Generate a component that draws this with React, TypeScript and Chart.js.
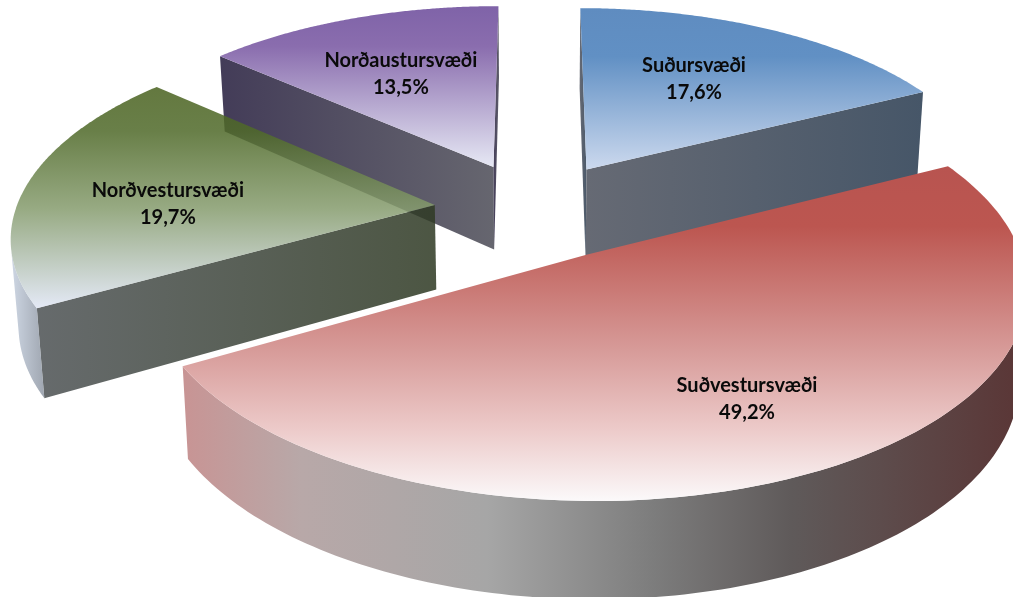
import React, { useEffect, useRef } from "react";
import { Chart, registerables } from "chart.js";

Chart.register(...registerables);

// ---- data ----
const categories = ["Suðursvæði", "Suðvestursvæði", "Norðvestursvæði", "Norðaustursvæði"];
const shares = [17.6, 49.2, 19.7, 13.5];
const shareLabels = ["17,6%", "49,2%", "19,7%", "13,5%"];

// ---- styles: [position, colour] stops per slice, in data order ----
type Stops = [number, string][];
const topStops: Stops[] = [
  [[0, "#5f8cc0"], [0.3, "#6190c4"], [1, "#ccd9ee"]],
  [[0, "#b85450"], [0.18, "#bc5650"], [0.55, "#d79b99"], [0.78, "#ecc9c8"], [1, "#fbf9fa"]],
  [[0, "#4a6220"], [0.2, "#506a2a"], [0.55, "#869c6e"], [1, "#dfe5f4"]],
  [[0, "#7f63a8"], [0.25, "#8a6dae"], [1, "#e6e8f4"]],
];
const radialStops: Stops[] = [
  [[0, "#666a74"], [1, "#465668"]],
  [[0, "#808080"], [1, "#808080"]],
  [[0, "#4d5254"], [1, "#2f3a24"]],
  [[0, "#433c58"], [1, "#66666f"]],
];
const outerStops: Stops[] = [
  [[0, "#4a5a6c"], [1, "#4a5a6c"]],
  [[0, "#c89494"], [0.14, "#b8a8a8"], [0.36, "#a6a6a6"], [0.56, "#7c7c7c"], [0.72, "#5f5a5a"], [1, "#5a3535"]],
  [[0, "#c6d0df"], [1, "#8e96a2"]],
  [[0, "#433c58"], [1, "#433c58"]],
];
const sliceAlpha = [1, 1, 0.86, 1];

// ---- 3D projection of the pie, in units of the pie's own radius ----
const EXPLODE = 0.23;
const nudgeU = [0.005, 0.01, -0.01, -0.007];
const nudgeV = [-0.025, 0.006, -0.012, -0.025];
const radiusScale = [0.985, 1, 0.995, 0.985];
const depthScale = [1.12, 1, 1, 1];
const labelRadius = [0.62, 0.69, 0.64, 0.61];
const labelAngleShift = [-3.7, 0, 0, 0];
const labelNudgeV = [0.025, 0.015, 0.06, 0.02];
const SCALE_X = 1.99;
const SCALE_Y = 0.934;
const PERSPECTIVE = 0.142;
const DEPTH = 85;
const DEPTH_GROW = 11;
const DEPTH_SHRINK_X = 0.985;
const LINE_GAP = 13.5;
const STEPS = 160;

type P = { x: number; y: number };

const pie3d = {
  id: "pie3d",
  beforeDatasetsDraw(chart: any) {
    const ctx: CanvasRenderingContext2D = chart.ctx;
    const meta = chart.getDatasetMeta(0);
    const arcs = meta.data.map((el: any, i: number) => {
      const { x, y, startAngle, endAngle, outerRadius } = el.getProps(
        ["x", "y", "startAngle", "endAngle", "outerRadius"],
        true
      );
      const mid = (startAngle + endAngle) / 2;
      const ou = EXPLODE * Math.cos(mid) + nudgeU[i];
      const ov = EXPLODE * Math.sin(mid) + nudgeV[i];
      const top = (u: number, v: number): P => {
        const w = 1 - PERSPECTIVE * v;
        return { x: x + (SCALE_X * outerRadius * u) / w, y: y + (SCALE_Y * outerRadius * v) / w };
      };
      const bot = (u: number, v: number): P => {
        const p = top(u, v);
        return {
          x: x + (p.x - x) * DEPTH_SHRINK_X,
          y: p.y + (DEPTH + DEPTH_GROW * v) * depthScale[i],
        };
      };
      return { i, x, y, startAngle, endAngle, mid, ou, ov, top, bot };
    });
    arcs.sort((a: any, b: any) => a.ov - b.ov);

    const gradient = (x0: number, y0: number, x1: number, y1: number, stops: Stops) => {
      const g = ctx.createLinearGradient(x0, y0, x1, y1);
      stops.forEach(([s, c]) => g.addColorStop(s, c));
      return g;
    };
    const poly = (pts: P[]) => {
      ctx.beginPath();
      pts.forEach((p, k) => (k ? ctx.lineTo(p.x, p.y) : ctx.moveTo(p.x, p.y)));
      ctx.closePath();
      ctx.fill();
    };
    const cross = (a: P, b: P, c: P, d: P) =>
      (b.x - a.x) * (d.y - c.y) - (b.y - a.y) * (d.x - c.x);

    for (const s of arcs) {
      ctx.save();
      ctx.globalAlpha = sliceAlpha[s.i];
      const uv: [number, number][] = [];
      for (let k = 0; k <= STEPS; k++) {
        const a = s.startAngle + ((s.endAngle - s.startAngle) * k) / STEPS;
        uv.push([s.ou + radiusScale[s.i] * Math.cos(a), s.ov + radiusScale[s.i] * Math.sin(a)]);
      }
      const T = uv.map(([u, v]) => s.top(u, v));
      const B = uv.map(([u, v]) => s.bot(u, v));
      const A = s.top(s.ou, s.ov);
      const AB = s.bot(s.ou, s.ov);

      // radial cut walls, only where they face the viewer
      const wall = (t: P, b: P) => {
        const g = gradient(Math.min(A.x, t.x, b.x), 0, Math.max(A.x, t.x, b.x) + 1, 0, radialStops[s.i]);
        ctx.fillStyle = g;
        poly([A, t, b, AB]);
      };
      if (cross(A, T[0], T[0], B[0]) < 0) wall(T[0], B[0]);
      if (cross(A, T[STEPS], T[STEPS], B[STEPS]) > 0) wall(T[STEPS], B[STEPS]);

      // curved outer wall, in runs that face the viewer
      let run: number[] = [];
      const flush = () => {
        if (run.length > 1) {
          const xs = run.flatMap((k) => [T[k].x, B[k].x]);
          ctx.fillStyle = gradient(Math.min(...xs), 0, Math.max(...xs) + 1, 0, outerStops[s.i]);
          poly([...run.map((k) => T[k]), ...run.slice().reverse().map((k) => B[k])]);
        }
        run = [];
      };
      for (let k = 0; k < STEPS; k++) {
        if (cross(T[k], T[k + 1], T[k + 1], B[k + 1]) < 0) {
          if (!run.length) run.push(k);
          run.push(k + 1);
        } else flush();
      }
      flush();

      // top face
      const ys = [A.y, ...T.map((p) => p.y)];
      ctx.fillStyle = gradient(0, Math.min(...ys), 0, Math.max(...ys), topStops[s.i]);
      poly([A, ...T]);
      ctx.restore();
    }

    // labels
    ctx.save();
    ctx.fillStyle = "#0a0a0a";
    ctx.font = 'bold 20px Lato, "Open Sans", sans-serif';
    ctx.textAlign = "center";
    ctx.textBaseline = "middle";
    for (const s of arcs) {
      const a = s.mid + (labelAngleShift[s.i] * Math.PI) / 180;
      const r = labelRadius[s.i];
      const p = s.top(s.ou + r * Math.cos(a), s.ov + r * Math.sin(a) + labelNudgeV[s.i]);
      ctx.fillText(categories[s.i], p.x, p.y - LINE_GAP);
      ctx.fillText(shareLabels[s.i], p.x, p.y + LINE_GAP);
    }
    ctx.restore();
    return false;
  },
};

export default function App() {
  const ref = useRef<HTMLCanvasElement>(null);
  useEffect(() => {
    document.body.style.margin = "0";
    const chart = new Chart(ref.current as HTMLCanvasElement, {
      type: "pie",
      data: {
        labels: categories,
        datasets: [{ data: shares, borderWidth: 0, hoverOffset: 0 }],
      },
      options: {
        animation: false,
        responsive: false,
        layout: { padding: { left: 57, bottom: 173 } },
        plugins: { legend: { display: false }, tooltip: { enabled: false } },
      },
      plugins: [pie3d],
    } as any);
    return () => chart.destroy();
  }, []);
  return <canvas ref={ref} width={1013} height={597} style={{ display: "block", position: "absolute", left: 0, top: 0 }} />;
}
